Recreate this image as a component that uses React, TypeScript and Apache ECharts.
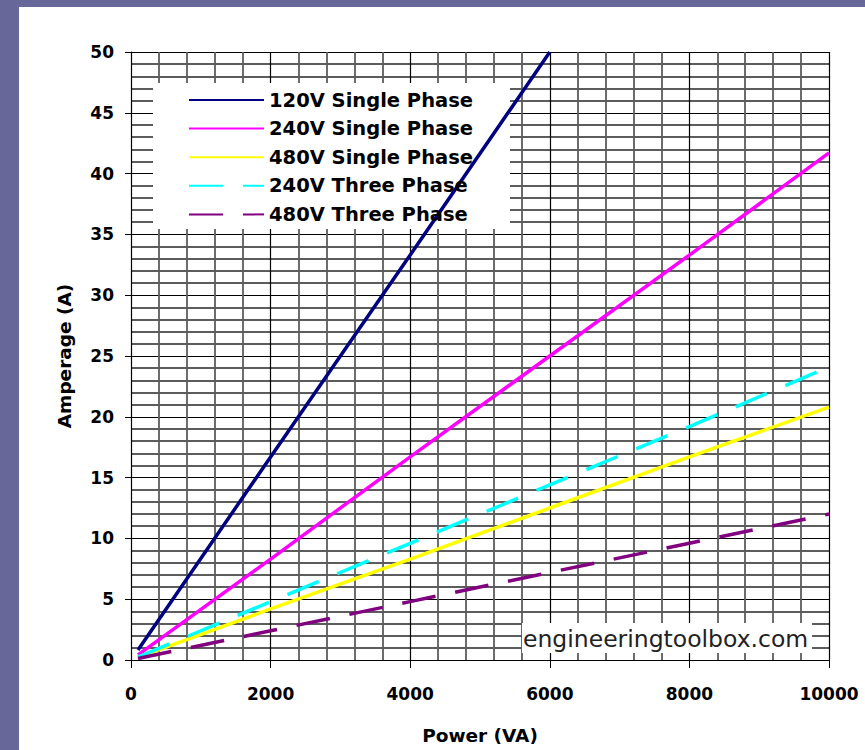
import React, { useEffect, useRef } from "react";
import * as echarts from "echarts";

// Power (VA) sample points
const power = [100, 2000, 4000, 6000, 8000, 10000];
// Amperage (A)
const amp120Single = [0.83, 16.7, 33.3, 50.0, null, null];
const amp240Single = [0.42, 8.3, 16.7, 25.0, 33.3, 41.7];
const amp480Single = [0.21, 4.2, 8.3, 12.5, 16.7, 20.8];
const amp240Three = [0.24, 4.8, 9.6, 14.4, 19.2, 24.1];
const amp480Three = [0.12, 2.4, 4.8, 7.2, 9.6, 12.0];

const seriesNames = [
  "120V Single Phase",
  "240V Single Phase",
  "480V Single Phase",
  "240V Three Phase",
  "480V Three Phase",
];
const seriesColors = ["#000080", "#ff00ff", "#ffff00", "#00ffff", "#800080"];
const seriesValues = [amp120Single, amp240Single, amp480Single, amp240Three, amp480Three];
const seriesDashed = [false, false, false, true, true];

const xTicksMax = 10000;
const yTicksMax = 50;

const FONT = "'DejaVu Sans', 'Liberation Sans', Arial, sans-serif";

export default function App() {
  const ref = useRef<HTMLDivElement>(null);

  useEffect(() => {
    if (!ref.current) return;
    const chart = echarts.init(ref.current, undefined, { renderer: "svg" });

    const series = seriesNames.map((name, i) => ({
      name,
      type: "line",
      symbol: "none",
      showSymbol: false,
      z: 3,
      data: power
        .map((p, j) => [p, seriesValues[i][j]])
        .filter((d) => d[1] !== null && d[1] !== undefined),
      lineStyle: {
        color: seriesColors[i],
        width: 3.5,
        type: seriesDashed[i] ? [34, 20] : "solid",
      },
      itemStyle: { color: seriesColors[i] },
    }));

    chart.setOption({
      animation: false,
      backgroundColor: "#ffffff",
      grid: { left: 131, right: 36, top: 52, bottom: 88, containLabel: false },
      xAxis: {
        type: "value",
        min: 0,
        max: xTicksMax,
        interval: 2000,
        name: "Power (VA)",
        nameLocation: "middle",
        nameGap: 66,
        nameTextStyle: { fontFamily: FONT, fontWeight: "bold", fontSize: 18.5, color: "#000" },
        axisLine: { show: true, lineStyle: { color: "#000", width: 1 } },
        axisTick: { show: true, inside: false, length: 8, lineStyle: { color: "#000", width: 1 } },
        minorTick: { show: false, splitNumber: 5 },
        axisLabel: {
          margin: 25,
          fontFamily: FONT,
          fontWeight: "bold",
          fontSize: 17,
          color: "#000",
          formatter: (v: number) => String(v),
        },
        splitLine: { show: true, lineStyle: { color: "#000", width: 1.2 } },
        minorSplitLine: { show: true, lineStyle: { color: "#5c5c5c", width: 1.8 } },
      },
      yAxis: {
        type: "value",
        min: 0,
        max: yTicksMax,
        interval: 5,
        name: "Amperage (A)",
        nameLocation: "middle",
        nameGap: 57,
        nameTextStyle: { fontFamily: FONT, fontWeight: "bold", fontSize: 18.5, color: "#000" },
        axisLine: { show: true, lineStyle: { color: "#000", width: 1 } },
        axisTick: { show: true, inside: false, length: 6, lineStyle: { color: "#000", width: 1 } },
        minorTick: { show: false, splitNumber: 5 },
        axisLabel: {
          margin: 17,
          fontFamily: FONT,
          fontWeight: "bold",
          fontSize: 17,
          color: "#000",
          formatter: (v: number) => String(v),
        },
        splitLine: { show: true, lineStyle: { color: "#000", width: 1.2 } },
        minorSplitLine: { show: true, lineStyle: { color: "#5c5c5c", width: 1.8 } },
      },
      legend: {
        show: true,
        orient: "vertical",
        left: 188,
        top: 90,
        itemWidth: 75,
        itemHeight: 14,
        itemGap: 8.6,
        selectedMode: false,
        padding: 0,
        itemStyle: { opacity: 0 },
        data: seriesNames,
        textStyle: {
          fontFamily: FONT,
          fontWeight: "bold",
          fontSize: 19.5,
          lineHeight: 20,
          color: "#000",
        },
      },
      graphic: [
        { type: "rect", z: 0, shape: { x: 0, y: 0, width: 19, height: 750 }, style: { fill: "#67679a" } },
        { type: "rect", z: 0, shape: { x: 0, y: 0, width: 865, height: 7 }, style: { fill: "#67679a" } },
        { type: "rect", z: 1, shape: { x: 153, y: 83, width: 357, height: 146 }, style: { fill: "#ffffff" } },
        { type: "rect", z: 1, shape: { x: 522, y: 623, width: 290, height: 30 }, style: { fill: "#ffffff" } },
        {
          type: "text",
          z: 5,
          x: 523,
          y: 639,
          style: {
            text: "engineeringtoolbox.com",
            fontFamily: FONT,
            fontSize: 23.5,
            fill: "#222",
            textAlign: "left",
            textVerticalAlign: "middle",
            verticalAlign: "middle",
          },
        },
      ],
      series,
    });

    return () => chart.dispose();
  }, []);

  return (
    <div
      ref={ref}
      style={{ position: "fixed", left: 0, top: 0, width: 865, height: 750 }}
    />
  );
}
